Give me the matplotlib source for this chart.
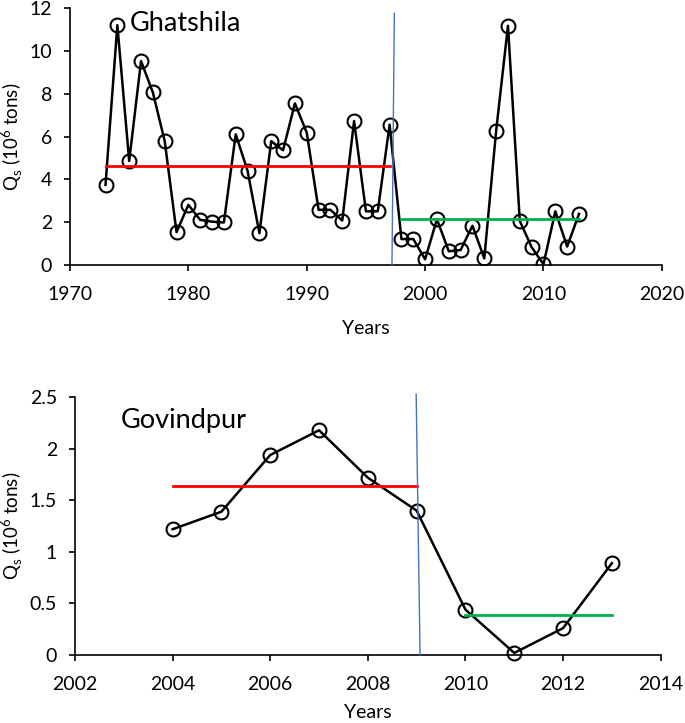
import numpy as np
import matplotlib
matplotlib.use('Agg')
import matplotlib.pyplot as plt

plt.rcParams['font.family'] = ['Lato', 'DejaVu Sans']
plt.rcParams['mathtext.fontset'] = 'custom'
plt.rcParams['mathtext.rm'] = 'Lato'

# Ghatshila data
g_years = list(range(1973, 2014))
g_qs = [3.75, 11.18, 4.86, 9.51, 8.05, 5.79, 1.55, 2.82, 2.12, 2.04, 2.0,
        6.1, 4.41, 1.5, 5.78, 5.36, 7.54, 6.18, 2.59, 2.59, 2.09,
        6.72, 2.52, 2.52, 6.55, 1.23, 1.23, 0.29, 2.15, 0.66, 0.72,
        1.85, 0.33, 6.26, 11.15, 2.07, 0.85, 0.06, 2.52, 0.88, 2.40]
g_mean_before = 4.65
g_mean_after = 2.15
g_before_span = [1973, 1997]
g_after_span = [1998, 2013]
g_change_x = [1997.4, 1997.2]
g_change_y = [11.73, 0]

# Govindpur data
v_years = list(range(2004, 2014))
v_qs = [1.22, 1.39, 1.94, 2.18, 1.72, 1.40, 0.44, 0.02, 0.26, 0.89]
v_mean_before = 1.64
v_mean_after = 0.39
v_before_span = [2004, 2009]
v_after_span = [2010, 2013]
v_change_x = [2008.99, 2009.07]
v_change_y = [2.53, 0]

ylab = r'Q$_\mathregular{s}$ (10$^\mathregular{6}$ tons)'
fs = 14

fig = plt.figure(figsize=(6.85, 7.23), dpi=100)
ax1 = fig.add_axes([0.1022, 0.6328, 0.864, 0.3568])
ax2 = fig.add_axes([0.1095, 0.0941, 0.855, 0.3564])


def style(ax, ylx, xpad):
    for s in ['top', 'right']:
        ax.spines[s].set_visible(False)
    for s in ['left', 'bottom']:
        ax.spines[s].set_linewidth(1.2)
    ax.tick_params(direction='out', length=4, width=1.2, labelsize=fs)
    ax.tick_params(axis='y', pad=9)
    ax.tick_params(axis='x', pad=11)
    ax.set_xlabel('Years', fontsize=fs, labelpad=xpad)
    ax.set_ylabel(ylab, fontsize=13.5)
    ax.yaxis.set_label_coords(ylx, 0.5)


# top panel
ax1.plot(g_years, g_qs, color='black', lw=1.8, marker='o', ms=10,
         mfc='none', mec='black', mew=1.5, zorder=3)
ax1.plot(g_before_span, [g_mean_before] * 2, color='#FF0000', lw=2, zorder=4)
ax1.plot(g_after_span, [g_mean_after] * 2, color='#00B050', lw=2, zorder=4)
ax1.plot(g_change_x, g_change_y, color='#4472C4', lw=1, zorder=5)
ax1.set_xlim(1970, 2020)
ax1.set_ylim(0, 12)
ax1.set_xticks(range(1970, 2021, 10))
ax1.set_yticks(range(0, 13, 2))
ax1.text(0.101, 0.910, 'Ghatshila', transform=ax1.transAxes, fontsize=19.5,
         va='baseline', ha='left')
style(ax1, -0.076, 12)

# bottom panel
ax2.plot(v_years, v_qs, color='black', lw=1.8, marker='o', ms=10,
         mfc='none', mec='black', mew=1.5, zorder=3, clip_on=False)
ax2.plot(v_before_span, [v_mean_before] * 2, color='#FF0000', lw=2, zorder=4)
ax2.plot(v_after_span, [v_mean_after] * 2, color='#00B050', lw=2, zorder=4)
ax2.plot(v_change_x, v_change_y, color='#4472C4', lw=1, zorder=5, clip_on=False)
ax2.set_xlim(2002, 2014)
ax2.set_ylim(0, 2.5)
ax2.set_xticks(range(2002, 2015, 2))
ax2.set_yticks([0, 0.5, 1, 1.5, 2, 2.5])
ax2.set_yticklabels(['0', '0.5', '1', '1.5', '2', '2.5'])
ax2.text(0.078, 0.880, 'Govindpur', transform=ax2.transAxes, fontsize=19.5,
         va='baseline', ha='left')
style(ax2, -0.0854, 8)

fig.savefig('out.png', dpi=100)
